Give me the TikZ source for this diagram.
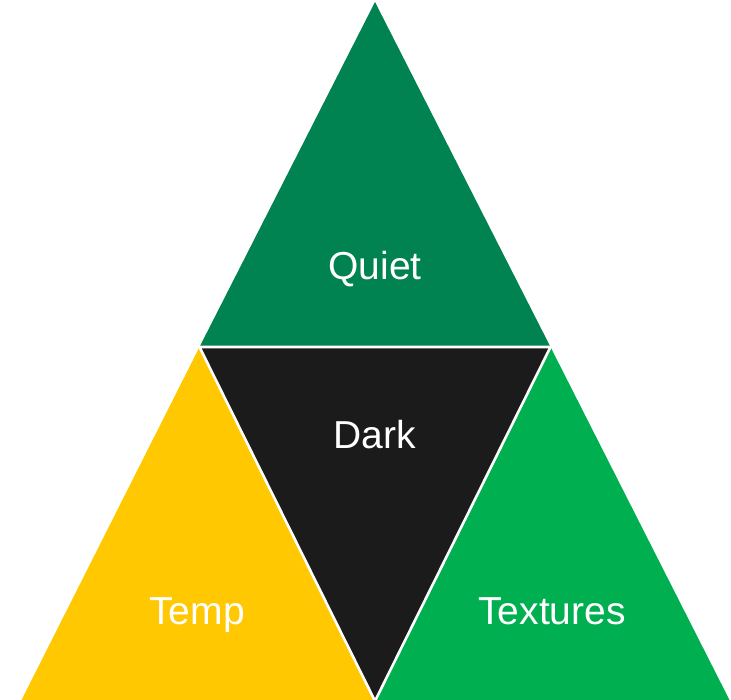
\documentclass[tikz,border=0pt]{standalone}
\usepackage{fontspec}
\setmainfont{Liberation Sans}
\definecolor{quietgreen}{RGB}{0,131,80}
\definecolor{darkfill}{RGB}{27,27,27}
\definecolor{tempyellow}{RGB}{255,200,0}
\definecolor{texgreen}{RGB}{0,175,80}
\tikzset{
  piece/.style={draw=white, line width=2.6pt, line join=round},
  label/.style={text=white, font=\fontsize{39}{46}\selectfont, inner sep=0pt, anchor=base}
}
\begin{document}
\begin{tikzpicture}[x=1pt,y=-1pt]
  \useasboundingbox (0,0) rectangle (731,699);
  % corners of the big triangle and midpoints of its sides
  \coordinate (A) at (375,2);
  \coordinate (L) at (21,701);
  \coordinate (R) at (730,701);
  \coordinate (ML) at (199.5,347);
  \coordinate (MR) at (550.5,347);
  \coordinate (MB) at (375,701);
  % four sub-triangles
  \fill[quietgreen] (A) -- (ML) -- (MR) -- cycle;
  \fill[darkfill] (ML) -- (MR) -- (MB) -- cycle;
  \fill[tempyellow] (ML) -- (L) -- (MB) -- cycle;
  \fill[texgreen] (MR) -- (MB) -- (R) -- cycle;
  % white seams between the pieces
  \draw[piece] (ML) -- (MR) -- (MB) -- cycle;
  % labels
  \node[label] (quiet) at (375,279) {Quiet};
  \node[label] (dark) at (375,448) {Dark};
  \node[label] (temp) at (197,624) {Temp};
  \node[label] (textures) at (552,624) {Textures};
\end{tikzpicture}
\end{document}
